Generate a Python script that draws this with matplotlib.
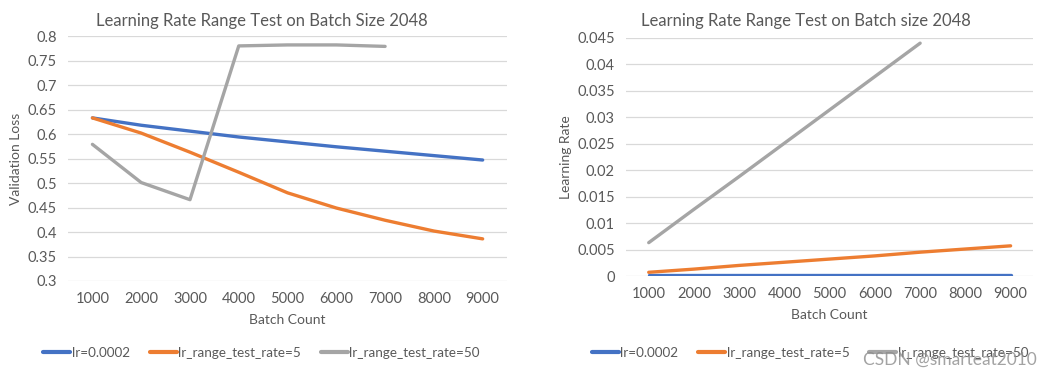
import matplotlib.pyplot as plt
from matplotlib.ticker import FormatStrFormatter

plt.rcParams['font.family'] = ['Lato', 'DejaVu Sans']

# 数据
batch_count = ['1000', '2000', '3000', '4000', '5000', '6000', '7000', '8000', '9000']
series_names = ['lr=0.0002', 'lr_range_test_rate=5', 'lr_range_test_rate=50']

loss_lr = [0.633, 0.618, 0.606, 0.594, 0.584, 0.574, 0.565, 0.556, 0.547]
loss_rate5 = [0.633, 0.602, 0.563, 0.522, 0.480, 0.449, 0.424, 0.402, 0.386]
loss_rate50 = [0.579, 0.501, 0.466, 0.780, 0.782, 0.782, 0.779]

lr_lr = [0.0002, 0.0002, 0.0002, 0.0002, 0.0002, 0.0002, 0.0002, 0.0002, 0.0002]
lr_rate5 = [0.0007, 0.0013, 0.0020, 0.0026, 0.0032, 0.0038, 0.0045, 0.0051, 0.0057]
lr_rate50 = [0.0063, 0.0126, 0.0188, 0.0251, 0.0314, 0.0377, 0.0440]

colors = ['#4472C4', '#ED7D31', '#A5A5A5']
text_color = '#595959'
grid_color = '#D9D9D9'

fig = plt.figure(figsize=(10.63, 3.75), dpi=100)
ax1 = fig.add_axes([0.064, 0.2507, 0.413, 0.653])
ax2 = fig.add_axes([0.589, 0.264, 0.383, 0.635])


def style_axes(ax, ylabel, ylim, step, fmt):
    ax.set_xlim(-0.5, len(batch_count) - 0.5)
    ax.set_ylim(*ylim)
    ax.set_xticks(range(len(batch_count)))
    ax.set_xticklabels(batch_count)
    ticks = []
    v = ylim[0]
    while v <= ylim[1] + step / 2:
        ticks.append(round(v, 4))
        v += step
    ax.set_yticks(ticks)
    ax.yaxis.set_major_formatter(FormatStrFormatter(fmt))
    ax.grid(axis='y', color=grid_color, linewidth=0.9)
    ax.set_axisbelow(True)
    for s in ax.spines.values():
        s.set_visible(False)
    ax.tick_params(length=0, labelsize=10.5, colors=text_color, pad=8)
    ax.set_xlabel('Batch Count', fontsize=10, color=text_color, labelpad=6)
    ax.set_ylabel(ylabel, fontsize=10, color=text_color, labelpad=4)


def legend_below(ax, x, y):
    leg = ax.legend(loc='center', bbox_to_anchor=(x, y),
                    bbox_transform=fig.transFigure, ncol=3,
                    frameon=False, fontsize=9.7, handlelength=2.0,
                    handletextpad=0.1, columnspacing=1.5)
    for t in leg.get_texts():
        t.set_color(text_color)
    for h in leg.get_lines():
        h.set_linewidth(3)


# 左图：验证损失
for vals, name, c in zip([loss_lr, loss_rate5, loss_rate50], series_names, colors):
    ax1.plot(range(len(vals)), vals, color=c, linewidth=2.4, label=name,
             solid_capstyle='round', solid_joinstyle='round')
style_axes(ax1, 'Validation Loss', (0.3, 0.8), 0.05, '%g')
fig.text(0.246, 0.945, 'Learning Rate Range Test on Batch Size 2048',
         ha='center', va='center', fontsize=12, color=text_color)
legend_below(ax1, 0.246, 0.059)

# 右图：学习率
for vals, name, c in zip([lr_lr, lr_rate5, lr_rate50], series_names, colors):
    ax2.plot(range(len(vals)), vals, color=c, linewidth=2.4, label=name,
             solid_capstyle='round', solid_joinstyle='round')
style_axes(ax2, 'Learning Rate', (0, 0.045), 0.005, '%g')
fig.text(0.758, 0.945, 'Learning Rate Range Test on Batch size 2048',
         ha='center', va='center', fontsize=12, color=text_color)
legend_below(ax2, 0.762, 0.059)

fig.text(0.9755, 0.04, 'CSDN @smarteat2010', ha='right', va='center',
         fontsize=12.5, color='#8C8C8C', alpha=0.8)

plt.savefig('out.png', dpi=100, facecolor='white')
